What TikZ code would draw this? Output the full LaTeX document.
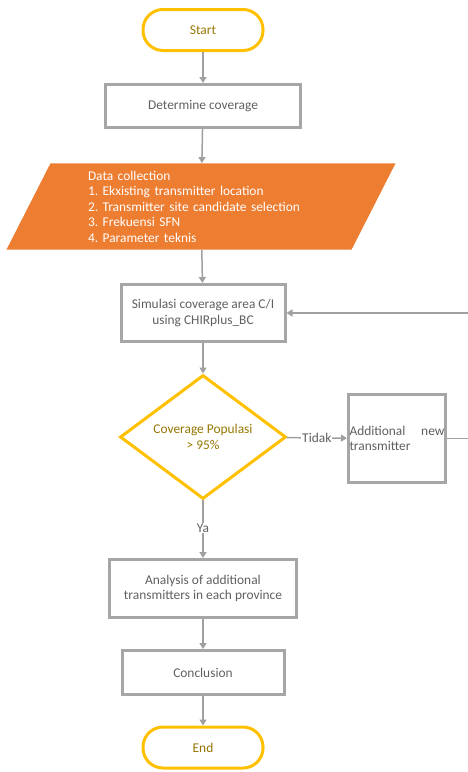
\documentclass[tikz,border=0pt]{standalone}
\usepackage{fontspec}
\setmainfont{Carlito}
\usetikzlibrary{arrows.meta,shapes.geometric}
\definecolor{boxgray}{RGB}{166,166,166}
\definecolor{flowgold}{RGB}{255,192,0}
\definecolor{goldtext}{RGB}{150,118,0}
\definecolor{dataorange}{RGB}{237,125,49}
\definecolor{linegray}{RGB}{160,160,160}
\definecolor{textgray}{RGB}{95,95,95}
\frenchspacing

\begin{document}
\begin{tikzpicture}[x=1pt,y=-1pt,
		every node/.style={font=\fontsize{13.4}{15.5}\selectfont},
		terminal/.style={draw=flowgold,line width=3pt,rounded corners=20pt,
			minimum width=120pt,minimum height=41pt,text=goldtext},
		process/.style={draw=boxgray,line width=3pt,align=center,text=textgray},
		decision/.style={draw=flowgold,line width=3pt,diamond,align=center,
			minimum width=166pt,minimum height=121pt,inner sep=0pt,text=goldtext},
		datain/.style={fill=dataorange,trapezium,trapezium left angle=63,
			trapezium right angle=117,text width=226pt,inner xsep=37.5pt,
			inner ysep=7.5pt,align=left,text=white},
		flowline/.style={draw=linegray,line width=1.5pt,
			-{Triangle[width=7pt,length=6pt]}},
		flowlabel/.style={fill=white,inner sep=1pt,text=textgray}]
	\useasboundingbox (0,0) rectangle (467,772);
	% main column
	\node[terminal] (start) at (203,30) {Start};
	\node[process,minimum width=195pt,minimum height=43pt] (cover) at (203,106) {Determine coverage};
	\node[datain] (data) at (201,206.5)
		{Data collection\\1. Ekxisting transmitter location\\2. Transmitter site candidate selection\\3. Frekuensi SFN\\4. Parameter teknis};
	\node[process,minimum width=164pt,minimum height=57pt] (sim) at (203,313)
		{Simulasi coverage area C/I\\using CHIRplus\_BC};
	\node[decision] (check) at (203,437) {Coverage Populasi\\> 95\%};
	\node[process,minimum width=97pt,minimum height=88pt,text width=95pt,
		inner xsep=0pt,align=left] (addtx) at (397,438.5) {Additional\hfill new\\transmitter};
	\node[process,minimum width=187pt,minimum height=58pt] (analysis) at (203,588.5)
		{Analysis of additional\\transmitters in each province};
	\node[process,minimum width=162pt,minimum height=44pt] (concl) at (203,672.5) {Conclusion};
	\node[terminal] (finish) at (203,747.5) {End};
	% connectors
	\draw[flowline] (start) -- (cover);
	\draw[flowline] (cover) -- (data);
	\draw[flowline] (data) -- (sim);
	\draw[flowline] (sim) -- (check);
	\draw[flowline] (check) -- node[flowlabel] {Tidak} (addtx);
	\draw[flowline] (check) -- node[flowlabel,pos=0.48] {Ya} (analysis);
	\draw[flowline] (analysis) -- (concl);
	\draw[flowline] (concl) -- (finish);
	\coordinate (loopturn) at (480,438.5);
	\draw[flowline] (addtx.east) -- (loopturn) |- (sim.east);
\end{tikzpicture}
\end{document}
